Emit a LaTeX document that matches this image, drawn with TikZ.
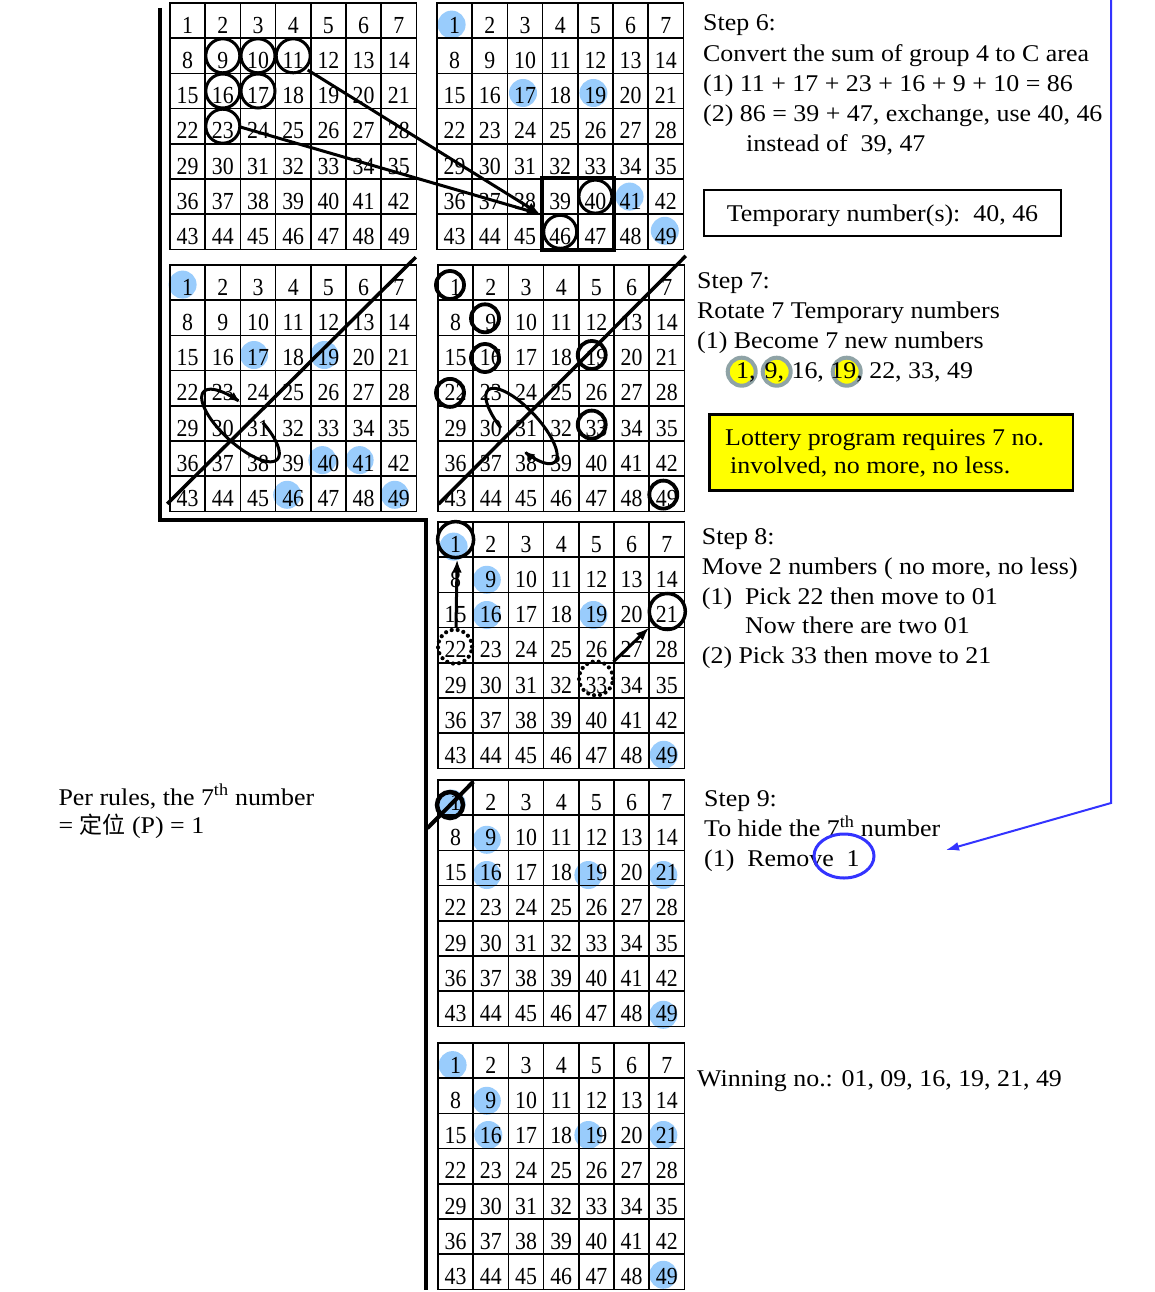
\documentclass[tikz,border=0pt]{standalone}
\usepackage{fontspec}
\setmainfont{Liberation Serif}
\newfontfamily\tf{Liberation Serif}[FakeStretch=1.08]
\newfontfamily\gf{Liberation Serif}[FakeStretch=0.89]
\newfontfamily\cjk{Noto Sans CJK SC}
\usetikzlibrary{arrows.meta}
\pgfdeclarelayer{paper}
\pgfdeclarelayer{bg}
\pgfsetlayers{paper,bg,main}
\definecolor{bfill}{RGB}{153,204,252}
\definecolor{bline}{RGB}{51,51,255}
\definecolor{yfill}{RGB}{255,255,0}
\definecolor{gring}{RGB}{143,163,166}
\tikzset{
  cell/.style={draw, line width=1.6pt, minimum size=35.2pt, inner sep=0pt,
    text height=25.5pt, text depth=0pt, font=\gf\fontsize{24.5}{26}\selectfont},
  txt/.style={anchor=base west, inner sep=0pt, font=\tf\fontsize{24}{30}\selectfont},
  ring/.style={draw, line width=3pt},
  thk/.style={line width=3.5pt},
  arr/.style={line width=3pt, -{Latex[length=13pt,width=10pt]}},
  ellarr/.style={line width=3pt, -{Latex[length=11pt,width=9pt]}},
  dotring/.style={line width=4.2pt, dash pattern=on 0pt off 6pt, line cap=round},
}
\newcommand{\numgrid}[3]{%
  \foreach \gr in {0,...,6}{\foreach \gc in {1,...,7}{%
    \pgfmathtruncatemacro{\gn}{7*\gr+\gc}%
    \node[cell] (#1-\gn) at ({#2+(\gc-0.5)*35.2},{#3+(\gr+0.5)*35.2}) {\gn};}}}
\newcommand{\bdot}[3]{\fill[bfill] ([shift={(#2,#3)}]#1.center) circle[radius=14pt];}
\begin{document}
\begin{tikzpicture}[x=1pt,y=-1pt]
\begin{pgfonlayer}{paper}
\fill[white] (0,0) rectangle (1155,1292);
\end{pgfonlayer}
\useasboundingbox (0,0) rectangle (1155,1292);

% grids
\numgrid{A}{170}{3}
\numgrid{B}{437}{3}
\numgrid{C}{170}{265}
\numgrid{D}{438}{265}
\numgrid{E}{438}{522}
\numgrid{F}{438}{780}
\numgrid{G}{438}{1043}

% blue marks
\begin{pgfonlayer}{bg}
\bdot{B-1}{-3}{4}\bdot{B-17}{-2}{2}\bdot{B-19}{-2}{2}\bdot{B-41}{-1}{0}\bdot{B-49}{-1}{-1}
\bdot{C-1}{-5}{2}\bdot{C-17}{-4}{2}\bdot{C-19}{-4}{2}\bdot{C-40}{-6}{1.5}\bdot{C-41}{-4}{1.5}\bdot{C-46}{-6}{1}\bdot{C-49}{-4}{1}
\bdot{E-1}{-2}{7}\bdot{E-9}{-4}{5}\bdot{E-16}{-4}{5}\bdot{E-19}{-3}{5}\bdot{E-49}{-3}{4}
\bdot{F-1}{-4}{6}\bdot{F-9}{-4}{7}\bdot{F-16}{-4}{7}\bdot{F-19}{-8}{7}\bdot{F-21}{-3.5}{7}\bdot{F-49}{-3.5}{6}
\bdot{G-1}{-3}{4.5}\bdot{G-9}{-4}{5}\bdot{G-16}{-2.5}{4}\bdot{G-19}{-8}{4}\bdot{G-21}{-3.5}{4}\bdot{G-49}{-3.5}{3}
% yellow rings behind step 7 numbers
\filldraw[fill=yfill, draw=gring, line width=4pt] (741.7,371.7) circle[radius=14pt];
\filldraw[fill=yfill, draw=gring, line width=4pt] (776.7,371.7) circle[radius=14pt];
\filldraw[fill=yfill, draw=gring, line width=4pt] (846.7,371.7) circle[radius=14pt];
\end{pgfonlayer}

% thick frame line
\coordinate (t0) at (160,8);
\coordinate (t1) at (160,520);
\coordinate (t2) at (426,520);
\coordinate (t3) at (426,1290);
\draw[line width=4pt] (t0) -- (t1) -- (t2) -- (t3);

% grid A rings and arrows
\foreach \k in {9,10,11,16,17,23} {\draw[ring] (A-\k.center) circle[radius=17pt];}
\draw[arr] ([shift={(14.5,14.2)}]A-11.center) -- ([shift={(-2,-1)}]B-39.south west);
\draw[arr] ([shift={(16.5,0.5)}]A-23.center) -- ([shift={(-2,-1)}]B-39.south west);

% grid B box and rings
\draw[line width=3.5pt] (B-39.north west) rectangle (B-47.south east);
\draw[ring] (B-40.center) circle[radius=16.5pt];
\draw[ring] (B-46.center) circle[radius=16.5pt];

% grid C diagonal and rotation
\draw[thk] ([shift={(-2,-8.4)}]C-43.south west) -- ([shift={(-1.4,-7)}]C-7.north east);
\draw[ellarr] plot[domain=-73:251.5, samples=90, smooth]
  ({240.5+50*cos(\x)*cos(42.5)-18*sin(\x)*sin(42.5)},{425.5+50*cos(\x)*sin(42.5)+18*sin(\x)*cos(42.5)});

% grid D diagonal, rotation and rings
\draw[thk] ([shift={(1.3,-8)}]D-43.south west) -- ([shift={(0.6,-8.3)}]D-7.north east);
\draw[ellarr] plot[domain=105:426, samples=90, smooth]
  ({521.5+49*cos(\x)*cos(47)-17*sin(\x)*sin(47)},{426+49*cos(\x)*sin(47)+17*sin(\x)*cos(47)});
\draw[line width=3.8pt] ([shift={(-5.6,2.4)}]D-1.center) circle[radius=14pt];
\draw[line width=3.8pt] ([shift={(-5.8,0.5)}]D-9.center) circle[radius=14pt];
\draw[line width=3.8pt] ([shift={(-5.8,5)}]D-16.center) circle[radius=14pt];
\draw[line width=3.8pt] ([shift={(-4.7,2)}]D-19.center) circle[radius=14pt];
\draw[line width=3.8pt] ([shift={(-5.6,4.7)}]D-22.center) circle[radius=14pt];
\draw[line width=3.8pt] ([shift={(-4.7,1.2)}]D-33.center) circle[radius=14pt];
\draw[line width=3.8pt] ([shift={(-3.5,0.8)}]D-49.center) circle[radius=14pt];

% grid E moves
\draw[line width=3.5pt] (E-1.center) circle[radius=18pt];
\draw[line width=3.5pt] ([shift={(0.5,1.5)}]E-21.center) circle[radius=18pt];
\draw[dotring] ([shift={(-0.6,1.5)}]E-22.center) circle[radius=17pt];
\draw[dotring] ([shift={(-0.4,-2)}]E-33.center) circle[radius=17pt];
\draw[arr] ([shift={(0.4,-18)}]E-22.center) -- ([shift={(1.5,20)}]E-1.center);
\draw[arr] ([shift={(17,-18.7)}]E-33.center) -- ([shift={(-1,1)}]E-27.north east);

% grid F removal
\draw[line width=4.5pt] ([shift={(-5.6,7.4)}]F-1.center) circle[radius=13pt];
\draw[line width=4pt] ([shift={(-28.3,30.7)}]F-1.center) -- ([shift={(17.7,-15.9)}]F-1.center);

% texts step 6
\node[txt] (s6a) at (703,31) {Step 6:};
\node[txt] (s6b) at (703,62) {Convert the sum of group 4 to C area};
\node[txt] (s6c) at (703,92) {(1) 11 + 17 + 23 + 16 + 9 + 10 = 86};
\node[txt] (s6d) at (703,122) {(2) 86 = 39 + 47, exchange, use 40, 46};
\node[txt] (s6e) at (746,152) {instead of\ \ 39, 47};
\node[draw, line width=2pt, minimum width=357pt, minimum height=46pt, inner sep=0pt,
  text height=17.4pt, text depth=0pt, font=\tf\fontsize{24}{30}\selectfont] (tmpbox) at (882.5,213) {Temporary number(s):\ \ 40, 46};

% step 7
\node[txt] (s7a) at (697,288.3) {Step 7:};
\node[txt] (s7b) at (697,318.3) {Rotate 7 Temporary numbers};
\node[txt] (s7c) at (697,348.3) {(1) Become 7 new numbers};
\node[txt] (s7d) at (736,378.3) {1,\hspace{9pt}9,\hspace{1pt} 16, 19, 22, 33, 49};
\node[draw, fill=yfill, line width=2.5pt, anchor=north west, minimum width=363.7pt, minimum height=76pt, inner sep=0pt] (ybox) at (708,413) {};
\node[txt] (y1) at (725,445) {Lottery program requires 7 no.};
\node[txt] (y2) at (730,473.3) {involved, no more, no less.};

% step 8
\node[txt] (s8a) at (701.7,544.3) {Step 8:};
\node[txt] (s8b) at (701.7,574.3) {Move 2 numbers ( no more, no less)};
\node[txt] (s8c) at (701.7,604.3) {(1)\ \ Pick 22 then move to 01};
\node[txt] (s8d) at (745,633.3) {Now there are two 01};
\node[txt] (s8e) at (701.7,663.3) {(2) Pick 33 then move to 21};

% step 9
\node[txt] (s9a) at (704,806.7) {Step 9:};
\node[txt] (s9b) at (704,836.7) {To hide the 7\textsuperscript{th} number};
\node[txt] (s9c) at (704,866.7) {(1)\ \ Remove\ \ 1};
\draw[bline, line width=3pt] (844,856) ellipse[x radius=30pt, y radius=22pt];

% left note
\node[txt] (pr1) at (58.3,805) {Per rules, the 7\textsuperscript{th} number};
\node[txt] (pr2) at (58.3,833.3) {= {\cjk\fontsize{23}{30}\selectfont 定位} (P) = 1};

% winning
\node[txt] (win) at (697,1086) {Winning no.: 01, 09, 16, 19, 21, 49};

% blue connector
\coordinate (bl0) at (1111,-2);
\coordinate (bl1) at (1111,803);
\coordinate (bl2) at (946,850);
\draw[bline, line width=2pt, -{Latex[length=13pt,width=9pt]}] (bl0) -- (bl1) -- (bl2);
\end{tikzpicture}
\end{document}
